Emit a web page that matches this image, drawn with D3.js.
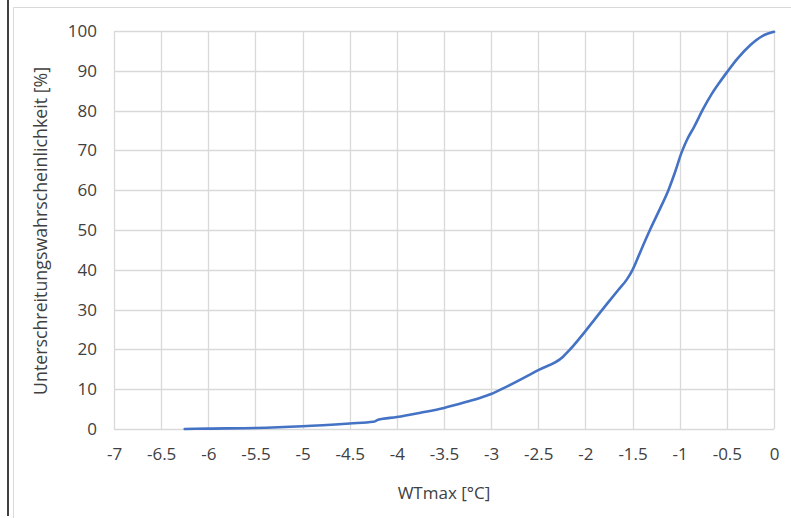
<!DOCTYPE html>
<html><head><meta charset="utf-8">
<script src="https://cdn.jsdelivr.net/npm/d3@7/dist/d3.min.js"></script>
<style>body{margin:0;background:#fff;} svg{display:block;}</style>
</head><body>
<svg id="c" width="791" height="518"></svg>
<script>
const wtmax = [-6.25,-6,-5.5,-5,-4.5,-4.25,-4.2,-4,-3.75,-3.5,-3.25,-3.12,-3,-2.84,-2.5,-2.24,-2.17,-2,-1.9,-1.78,-1.65,-1.56,-1.5,-1.4,-1.31,-1.2,-1.12,-1.05,-0.98,-0.92,-0.85,-0.75,-0.66,-0.58,-0.5,-0.39,-0.25,-0.12,0];
const prob = [0,0.1,0.25,0.7,1.4,1.8,2.3,3.0,4.1,5.3,6.9,7.8,8.8,10.6,14.8,18.1,19.8,24.6,27.6,31.2,35.0,37.6,40,45.5,50.3,55.8,60,64.5,69.5,72.8,75.8,80.5,84.2,87,89.6,93,96.5,98.8,99.8];
const xTicks = [-7,-6.5,-6,-5.5,-5,-4.5,-4,-3.5,-3,-2.5,-2,-1.5,-1,-0.5,0];
const yTicks = [0,10,20,30,40,50,60,70,80,90,100];
const xTitle = "WTmax [°C]";
const yTitle = "Unterschreitungswahrscheinlichkeit [%]";

const svg = d3.select("#c");
const L = 114, R = 774, T = 31, B = 429;
const x = d3.scaleLinear().domain([-7,0]).range([L,R]);
const y = d3.scaleLinear().domain([0,100]).range([B,T]);
const font = "'Open Sans', sans-serif";
const txt = "#404040";

// outer frame
svg.append("line").attr("x1",8).attr("x2",8).attr("y1",0).attr("y2",516).attr("stroke","#000").attr("stroke-width",1.5);
svg.append("path").attr("d","M13.5,518 V7.5 H791").attr("fill","none").attr("stroke","#d9d9d9").attr("stroke-width",1);

// grid
svg.append("g").selectAll("line").data(yTicks).join("line")
  .attr("x1",L).attr("x2",R).attr("y1",d=>Math.round(y(d))+0.5).attr("y2",d=>Math.round(y(d))+0.5)
  .attr("stroke","#d9d9d9").attr("stroke-width",1.3);
svg.append("g").selectAll("line").data(xTicks).join("line")
  .attr("y1",T).attr("y2",B).attr("x1",d=>Math.round(x(d))+0.5).attr("x2",d=>Math.round(x(d))+0.5)
  .attr("stroke","#d9d9d9").attr("stroke-width",1.3);

// axes labels
const xAxis = d3.axisBottom(x).tickValues(xTicks).tickSize(0).tickPadding(19).tickFormat(d=>String(d));
const gx = svg.append("g").attr("transform",`translate(0,${B})`).call(xAxis);
gx.select(".domain").remove();
gx.selectAll("text").attr("font-family",font).attr("font-size",17).attr("fill",txt);

const yAxis = d3.axisLeft(y).tickValues(yTicks).tickSize(0).tickPadding(17).tickFormat(d=>String(d));
const gy = svg.append("g").attr("transform",`translate(${L},0)`).call(yAxis);
gy.select(".domain").remove();
gy.selectAll("text").attr("font-family",font).attr("font-size",17).attr("fill",txt);

// line
svg.append("path").datum(wtmax.map((v,i)=>[v,prob[i]]))
  .attr("d", d3.line().x(d=>x(d[0])).y(d=>y(d[1])).curve(d3.curveMonotoneX))
  .attr("fill","none").attr("stroke","#4472C4").attr("stroke-width",2.6).attr("stroke-linejoin","round").attr("stroke-linecap","round");

// titles
svg.append("text").attr("x",444).attr("y",499).attr("text-anchor","middle")
  .attr("font-family",font).attr("font-size",17).attr("fill",txt).text(xTitle);
svg.append("text").attr("transform","translate(47,231) rotate(-90)").attr("text-anchor","middle")
  .attr("font-family",font).attr("font-size",17.8).attr("fill",txt).text(yTitle);
</script>
</body></html>
